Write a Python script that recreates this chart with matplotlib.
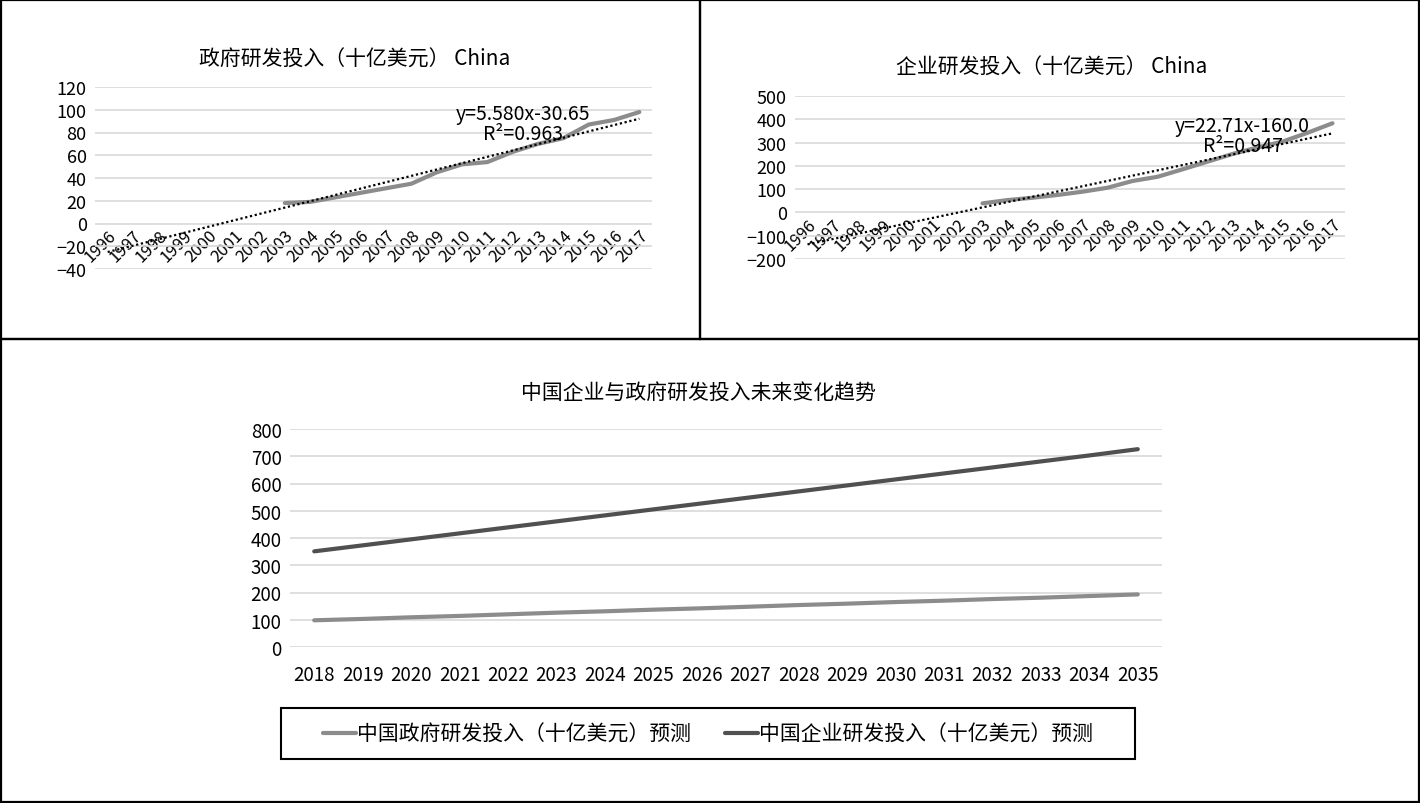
import matplotlib
matplotlib.use("Agg")
import matplotlib.pyplot as plt
from matplotlib.patches import Rectangle

plt.rcParams['font.family'] = ['Noto Sans CJK SC', 'DejaVu Sans']

# historical data
years = [str(y) for y in range(1996, 2018)]
gov_years = list(range(2003, 2018))
gov_values = [18, 19, 23, 27, 31, 35, 45, 52, 54, 63, 70, 75, 87, 91, 98]
biz_values = [39, 53, 63, 75, 89, 106, 135, 153, 185, 218, 251, 279, 304, 342, 383]

# trend lines (Excel coefficients, x = 1..22)
gov_trend = (5.580, -30.65, 0.963)
biz_trend = (22.71, -160.0, 0.947)

# forecast
fc_years = [str(y) for y in range(2018, 2036)]
fc_gov = [98, 103, 109, 114, 120, 126, 131, 137, 142, 148, 154, 159, 165, 170, 176, 181, 187, 193]
fc_biz = [351, 373, 395, 417, 439, 461, 483, 505, 527, 549, 571, 593, 615, 637, 659, 681, 703, 726]

W, H = 1420, 804
LIGHT = '#8c8c8c'
DARK = '#505050'
GRID = '#d9d9d9'

fig = plt.figure(figsize=(W / 100, H / 100), dpi=100)


def box(x0, y0, x1, y1):
    # pixel coords (top-left origin) -> figure fraction
    return [x0 / W, 1 - y1 / H, (x1 - x0) / W, (y1 - y0) / H]


def style(ax, ymin, ymax, step):
    ax.set_ylim(ymin, ymax)
    ax.set_yticks(range(ymin, ymax + 1, step))
    ax.yaxis.grid(True, color=GRID, linewidth=1.2)
    ax.set_axisbelow(True)
    for s in ax.spines.values():
        s.set_visible(False)


def hist_panel(rect, title, title_xy, values, trend, ymin, ymax, step, label_xy, label):
    ax = fig.add_axes(box(*rect))
    ax.spines['bottom'].set_position(('data', 0))
    style(ax, ymin, ymax, step)
    idx = [years.index(str(y)) for y in gov_years]
    ax.plot(idx, values, color=LIGHT, linewidth=3, solid_capstyle='round')
    a, b, r2 = trend
    xs = list(range(len(years)))
    ax.plot(xs, [a * (x + 1) + b for x in xs], color='black', linestyle=(0, (1, 1.2)), linewidth=1.6)
    ax.set_xlim(-0.5, len(years) - 0.5)
    ax.set_xticks(xs)
    ax.set_xticklabels(years, rotation=45, ha='right', va='top', rotation_mode='anchor', fontsize=12)
    ax.tick_params(length=0)
    ax.tick_params(axis='x', pad=2)
    ax.tick_params(axis='y', labelsize=13, pad=6)
    fig.text(title_xy[0] / W, 1 - title_xy[1] / H, title, ha='center', va='center', fontsize=15)
    ax.text(label_xy[0], label_xy[1], label, ha='center', va='center', fontsize=14, linespacing=0.95)
    return ax


hist_panel((95, 88, 652, 270), '政府研发投入（十亿美元） China', (355, 60), gov_values, gov_trend,
           -40, 120, 20, (16.4, 88), 'y=5.580x-30.65\nR²=0.963')
hist_panel((795, 97, 1345, 260), '企业研发投入（十亿美元） China', (1052, 68), biz_values, biz_trend,
           -200, 500, 100, (17.4, 330), 'y=22.71x-160.0\nR²=0.947')

# forecast panel
ax3 = fig.add_axes(box(290, 430, 1162, 648))
style(ax3, 0, 800, 100)
fx = list(range(len(fc_years)))
l1, = ax3.plot(fx, fc_gov, color=LIGHT, linewidth=3, solid_capstyle='round', label='中国政府研发投入（十亿美元）预测')
l2, = ax3.plot(fx, fc_biz, color=DARK, linewidth=3, solid_capstyle='round', label='中国企业研发投入（十亿美元）预测')
ax3.set_xlim(-0.5, len(fc_years) - 0.5)
ax3.set_xticks(fx)
ax3.set_xticklabels(fc_years, fontsize=13.5)
ax3.tick_params(length=0)
ax3.tick_params(axis='x', pad=12)
ax3.tick_params(axis='y', labelsize=13.5, pad=6)
fig.text(698 / W, 1 - 393 / H, '中国企业与政府研发投入未来变化趋势', ha='center', va='center', fontsize=15)

fig.legend(handles=[l1, l2], loc='center', bbox_to_anchor=(708 / W, 1 - 735 / H), ncol=2,
           fontsize=15, frameon=False, handlelength=1.6, handletextpad=0.05, columnspacing=1.6)

# legend frame and panel borders
frames = [((281, 709, 1135, 760), 1.5), ((1, 1, 700, 340), 1.6), ((700, 1, 1419, 340), 1.6),
          ((1, 340, 1419, 803), 1.6)]
for (x0, y0, x1, y1), lw in frames:
    fig.patches.append(Rectangle((x0 / W, 1 - y1 / H), (x1 - x0) / W, (y1 - y0) / H,
                                 transform=fig.transFigure, fill=False, edgecolor='black', linewidth=lw))

fig.savefig('out.png', dpi=100)
